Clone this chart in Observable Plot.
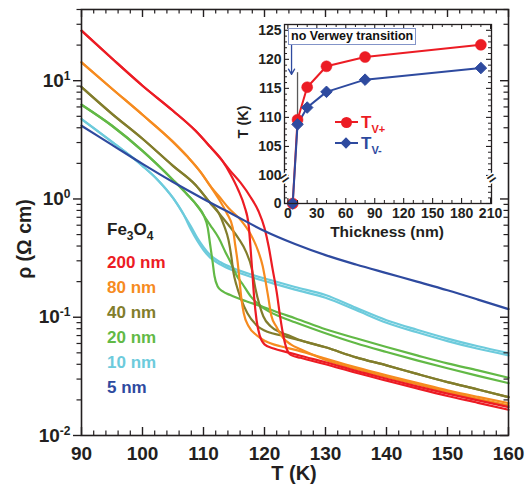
<!DOCTYPE html>
<html><head><meta charset="utf-8">
<script src="https://cdn.jsdelivr.net/npm/d3@7"></script>
<script src="https://cdn.jsdelivr.net/npm/@observablehq/plot@0.6"></script>
<style>
body{margin:0;background:#fff;}
#wrap{position:relative;width:525px;height:491px;font-family:"Liberation Sans",Arial,sans-serif;font-weight:bold;color:#231f20;overflow:hidden;}
#wrap svg{position:absolute;left:0;top:0;}
.abs{position:absolute;white-space:nowrap;line-height:1;}
.sub{position:relative;font-size:12px;top:5px;}
</style></head><body><div id="wrap"></div>
<script>
// ---------- main chart data: [T (K), rho (Ohm cm)] ----------
const nm5 = [[90,4.16],[95,2.87],[100,1.98],[105,1.39],[110,1.00],[115,0.732],[120,0.536],[125,0.416],[130,0.335],[135,0.279],[140,0.236],[145,0.200],[150,0.169],[155,0.141],[160,0.117]];
const nm10Heat = [[90,4.74],[95,3.04],[100,1.905],[102.5,1.449],[105,1.02],[106.7,0.746],[107.9,0.590],[109.0,0.467],[110.0,0.392],[111.1,0.335],[112.8,0.292],[114.9,0.260],[117.7,0.231],[121.0,0.206],[125,0.180],[130,0.154],[135,0.120],[140,0.0943],[145,0.0783],[150,0.0660],[155,0.0568],[160,0.0498]];
const nm10Cool = [[90,4.74],[95,3.04],[100,1.905],[102.5,1.449],[105,1.02],[106.7,0.746],[107.9,0.557],[109.0,0.441],[110.0,0.370],[111.1,0.319],[112.8,0.279],[114.9,0.248],[117.7,0.220],[121.0,0.196],[125,0.171],[130,0.146],[135,0.115],[140,0.0898],[145,0.0746],[150,0.0628],[155,0.0541],[160,0.0476]];
const nm20Cool = [[90,6.26],[95,4.16],[100,2.55],[105,1.449],[107.4,1.081],[109.0,0.872],[110.0,0.732],[110.7,0.568],[111.1,0.408],[111.5,0.292],[111.8,0.223],[112.3,0.183],[113.1,0.166],[114.4,0.154],[116.9,0.137],[119.8,0.122],[122.6,0.108],[125,0.0982],[130,0.0791],[135,0.0664],[140,0.0560],[145,0.0476],[150,0.0407],[155,0.0355],[160,0.0308]];
const nm20Heat = [[90,6.26],[95,4.16],[100,2.55],[105,1.449],[107.4,1.081],[109.0,0.872],[110.0,0.732],[111.1,0.602],[112.5,0.467],[113.6,0.355],[114.6,0.281],[115.4,0.227],[116.4,0.191],[117.7,0.151],[119.0,0.129],[120.7,0.112],[122.6,0.101],[125,0.0907],[130,0.0732],[135,0.0602],[140,0.0508],[145,0.0432],[150,0.0370],[155,0.0319],[160,0.0277]];
const nm40Cool = [[90,8.84],[95,5.25],[100,3.23],[105,1.905],[108.7,1.314],[111.1,0.925],[112.5,0.761],[113.4,0.590],[114.1,0.449],[114.6,0.316],[114.9,0.241],[115.4,0.187],[116.1,0.145],[117.2,0.108],[118.7,0.0855],[120.7,0.0746],[122.6,0.0704],[125.9,0.0638],[130,0.0557],[135,0.0458],[140,0.0392],[145,0.0332],[150,0.0283],[155,0.0245],[160,0.0211]];
const nm40Heat = [[90,8.84],[95,5.25],[100,3.23],[105,1.905],[108.7,1.314],[111.1,0.925],[112.5,0.761],[114.1,0.602],[115.7,0.467],[117.0,0.355],[117.9,0.260],[118.5,0.176],[119.2,0.126],[119.8,0.102],[121.0,0.0839],[122.6,0.0746],[124.3,0.0690],[125.9,0.0638],[130,0.0557],[135,0.0458],[140,0.0392],[145,0.0332],[150,0.0283],[155,0.0245],[160,0.0211]];
const nm80Cool = [[90,14.3],[95,8.55],[100,5.15],[105,3.04],[107.4,2.27],[109.5,1.694],[111.1,1.289],[112.5,1.00],[113.8,0.761],[114.8,0.568],[115.2,0.408],[115.6,0.292],[115.9,0.206],[116.2,0.145],[116.6,0.108],[117.4,0.0839],[118.7,0.0704],[120.2,0.0626],[122.6,0.0568],[125.4,0.0525],[130,0.0447],[135,0.0377],[140,0.0323],[145,0.0279],[150,0.0241],[155,0.0212],[160,0.0188]];
const nm80Heat = [[90,14.3],[95,8.55],[100,5.15],[105,3.04],[107.4,2.27],[109.5,1.694],[111.1,1.289],[112.5,1.060],[114.1,0.839],[116.1,0.664],[117.7,0.505],[118.9,0.370],[119.7,0.271],[120.2,0.198],[120.7,0.139],[121.1,0.104],[122.0,0.0823],[123.1,0.0664],[124.3,0.0590],[125.9,0.0536],[130,0.0436],[135,0.0366],[140,0.0313],[145,0.0271],[150,0.0234],[155,0.0204],[160,0.0180]];
const nm200Cool = [[90,26.5],[95,15.4],[100,9.07],[105,5.57],[108.7,3.77],[111.1,2.76],[113.1,2.10],[114.4,1.629],[115.7,1.192],[116.7,0.872],[117.4,0.602],[117.7,0.392],[118.0,0.241],[118.3,0.148],[118.7,0.0943],[119.2,0.0704],[120.0,0.0590],[121.5,0.0543],[123.8,0.0505],[125.9,0.0472],[130,0.0416],[135,0.0352],[140,0.0302],[145,0.0260],[150,0.0226],[155,0.0198],[160,0.0174]];
const nm200Heat = [[90,26.5],[95,15.4],[100,9.07],[105,5.57],[108.7,3.77],[111.1,2.76],[113.1,2.10],[114.4,1.727],[116.1,1.366],[117.7,1.040],[119.0,0.791],[120.0,0.568],[120.7,0.392],[121.3,0.260],[122.0,0.163],[122.6,0.0982],[123.1,0.0690],[123.6,0.0546],[124.3,0.0481],[125.9,0.0454],[130,0.0400],[135,0.0339],[140,0.0291],[145,0.0250],[150,0.0216],[155,0.0189],[160,0.0165]];

const seriesNames = ["200 nm","80 nm","40 nm","20 nm","10 nm","5 nm"];
const seriesColors = ["#ec1c24","#f68b1f","#827d2c","#62b946","#6dcbdc","#2e4a9f"];
const drawOrder = [
  {color:"#6dcbdc", branches:[nm10Heat, nm10Cool]},
  {color:"#62b946", branches:[nm20Cool, nm20Heat]},
  {color:"#827d2c", branches:[nm40Cool, nm40Heat]},
  {color:"#f68b1f", branches:[nm80Cool, nm80Heat]},
  {color:"#ec1c24", branches:[nm200Cool, nm200Heat]},
  {color:"#2e4a9f", branches:[nm5]}
];

// main ticks
const xMajor = [90,100,110,120,130,140,150,160];
const xMinor = d3.range(92,160,2).filter(t => t % 10 !== 0);
const yMajor = [0.01,0.1,1,10];
const yMinor = [0.01,0.1,1,10].flatMap(p => d3.range(2,10).map(k => +(k*p).toPrecision(3))).filter(v => v <= 40);

// ---------- inset data ----------
const thickness = [5,10,20,40,80,200];
const tvPlus  = [0,109.6,115.2,118.8,120.4,122.5];
const tvMinus = [0,108.8,111.7,114.4,116.5,118.5];
const insetXMajor = [0,30,60,90,120,150,180,210];
const insetXMinor = d3.range(10,210,10).filter(v => v % 30 !== 0);
const insetYMajor = [0,100,105,110,115,120,125];
const insetYMinor = [20,40,60,80].concat(d3.range(101,127).filter(v => v % 5 !== 0));
const arrowNote = [{x:3.8, y1:122.8, y2:117.4}];
const grayRule = [{x:10, y1:108.8, y2:117.7}];
const breakAt = [{x:-3.5, y:90},{x:211, y:90}];

// broken inset axis: 0..100 compressed below the break
const squeeze = 0.0483;
const brk = v => v >= 100 ? v : 100 - (100 - v) * squeeze;
const unbrk = d => d >= 100 ? d : 100 - (100 - d) / squeeze;

const ink = "#231f20";
const wrap = document.getElementById("wrap");

// ---------- main plot ----------
const W=525, H=491, mL=81, mR=17, mT=9, mB=56;
const fW = W-mL-mR, fH = H-mT-mB;
const lineMarks = drawOrder.flatMap(s => s.branches.map(b =>
  Plot.line(b, {x: d => d[0], y: d => d[1], stroke: s.color, strokeWidth: 2.2, curve: "monotone-x", strokeLinejoin: "round"})));

const main = Plot.plot({
  width: W, height: H, marginLeft: mL, marginRight: mR, marginTop: mT, marginBottom: mB,
  x: {domain: [90,160]},
  y: {type: "log", domain: [0.01, 40]},
  style: {fontFamily: "Liberation Sans, Arial, sans-serif", fontWeight: "bold", fontSize: "19px", color: ink, background: "transparent", overflow: "visible"},
  marks: [
    ...lineMarks,
    Plot.frame({stroke: ink, strokeWidth: 1.6}),
    Plot.tickX(xMajor, {x: d => d, insetTop: fH-8, stroke: ink, strokeWidth: 1.4}),
    Plot.tickX(xMinor, {x: d => d, insetTop: fH-4.5, stroke: ink, strokeWidth: 1.2}),
    Plot.tickX(xMajor, {x: d => d, insetBottom: fH-8, stroke: ink, strokeWidth: 1.4}),
    Plot.tickX(xMinor, {x: d => d, insetBottom: fH-4.5, stroke: ink, strokeWidth: 1.2}),
    Plot.tickY(yMajor, {y: d => d, insetLeft: -8, insetRight: fW, stroke: ink, strokeWidth: 1.4}),
    Plot.tickY(yMinor, {y: d => d, insetLeft: -4.5, insetRight: fW, stroke: ink, strokeWidth: 1.2}),
    Plot.tickY(yMajor, {y: d => d, insetLeft: fW-8, stroke: ink, strokeWidth: 1.4}),
    Plot.tickY(yMinor, {y: d => d, insetLeft: fW-4.5, stroke: ink, strokeWidth: 1.2}),
    Plot.axisX({ticks: xMajor, tickSize: 0, tickPadding: 11, label: null, fontSize: 19, tickFormat: d => String(d)}),
    Plot.axisY({ticks: yMajor, tickSize: 0, tickPadding: 11, label: null, fontSize: 19, tickFormat: d => "10^" + Math.round(Math.log10(d))})
  ]
});
main.querySelectorAll("text").forEach(t => {
  if (t.textContent.includes("^")) {
    const [b, e] = t.textContent.split("^");
    t.textContent = b;
    const ts = document.createElementNS("http://www.w3.org/2000/svg", "tspan");
    ts.setAttribute("dy", "-7"); ts.setAttribute("font-size", "12"); ts.textContent = e;
    t.appendChild(ts);
  }
});
wrap.appendChild(main);

// ---------- inset plot ----------
const iW=290, iH=235, iL=54, iR=29, iT=9, iB=47;
const ifW = iW-iL-iR, ifH = iH-iT-iB;
const insetRows = thickness.map((t,i) => ({t, plus: tvPlus[i], minus: tvMinus[i]}));
const inset = Plot.plot({
  width: iW, height: iH, marginLeft: iL, marginRight: iR, marginTop: iT, marginBottom: iB,
  x: {domain: [-3.5, 211]},
  y: {domain: [brk(0), 126]},
  style: {fontFamily: "Liberation Sans, Arial, sans-serif", fontWeight: "bold", fontSize: "14px", color: ink, background: "transparent", overflow: "visible"},
  marks: [
    Plot.frame({fill: "white", stroke: "none"}),
    Plot.ruleX(grayRule, {x: "x", y1: d => brk(d.y1), y2: d => brk(d.y2), stroke: "#5a5a5a", strokeWidth: 1.3}),
    Plot.line(insetRows, {x: "t", y: d => brk(d.plus), stroke: "#ec1c24", strokeWidth: 2}),
    Plot.line(insetRows, {x: "t", y: d => brk(d.minus), stroke: "#2e4a9f", strokeWidth: 2}),
    Plot.dot(insetRows, {x: "t", y: d => brk(d.plus), r: 5.5, fill: "#ec1c24", stroke: "#ec1c24", strokeWidth: 0.5}),
    Plot.dot(insetRows, {x: "t", y: d => brk(d.minus), r: 5.2, symbol: "diamond2", fill: "#2e4a9f", stroke: "#2e4a9f", strokeWidth: 1}),
    Plot.arrow(arrowNote, {x1: "x", x2: "x", y1: d => brk(d.y1), y2: d => brk(d.y2), stroke: "#2e4a9f", strokeWidth: 1.3, headLength: 7}),
    Plot.frame({stroke: ink, strokeWidth: 1.3}),
    Plot.tickX(insetXMajor, {x: d => d, insetTop: ifH-5, stroke: ink, strokeWidth: 1.1}),
    Plot.tickX(insetXMinor, {x: d => d, insetTop: ifH-3, stroke: ink, strokeWidth: 1}),
    Plot.tickX(insetXMajor, {x: d => d, insetBottom: ifH-5, stroke: ink, strokeWidth: 1.1}),
    Plot.tickX(insetXMinor, {x: d => d, insetBottom: ifH-3, stroke: ink, strokeWidth: 1}),
    Plot.tickY(insetYMajor, {y: d => brk(d), insetRight: ifW-5, stroke: ink, strokeWidth: 1.1}),
    Plot.tickY(insetYMinor, {y: d => brk(d), insetRight: ifW-3, stroke: ink, strokeWidth: 1}),
    Plot.tickY(insetYMajor, {y: d => brk(d), insetLeft: ifW-5, stroke: ink, strokeWidth: 1.1}),
    Plot.tickY(insetYMinor, {y: d => brk(d), insetLeft: ifW-3, stroke: ink, strokeWidth: 1}),
    Plot.text(breakAt, {x: "x", y: d => brk(d.y), text: () => "=", rotate: -35, fontSize: 15, fill: ink, stroke: "white", strokeWidth: 3, paintOrder: "stroke"}),
    Plot.axisX({ticks: insetXMajor, tickSize: 0, tickPadding: 5, label: null, fontSize: 14, tickFormat: d => String(d)}),
    Plot.axisY({ticks: insetYMajor.map(brk), tickSize: 0, tickPadding: 3, label: null, fontSize: 14, tickFormat: d => String(Math.round(unbrk(d)))})
  ]
});
inset.style.left = "230px"; inset.style.top = "15px";
wrap.appendChild(inset);

// ---------- text overlays ----------
function addDiv(html, css) {
  const d = document.createElement("div");
  d.className = "abs"; d.innerHTML = html; Object.assign(d.style, css);
  wrap.appendChild(d); return d;
}
// axis titles
addDiv("T (K)", {left: "294px", top: "463px", fontSize: "20px", transform: "translateX(-50%)"});
addDiv("ρ (Ω cm)", {left: "25px", top: "239px", fontSize: "19.5px", transform: "translate(-50%,-50%) rotate(-90deg)"});
// main legend
addDiv('Fe<span class="sub">3</span>O<span class="sub">4</span>', {left: "107px", top: "221px", fontSize: "17px"});
seriesNames.forEach((n, i) => addDiv(n, {left: "107px", top: (253.7 + i*25) + "px", fontSize: "17px", color: seriesColors[i]}));
// inset titles
addDiv("Thickness (nm)", {left: "387px", top: "224px", fontSize: "15.5px", transform: "translateX(-50%)"});
addDiv("T (K)", {left: "243px", top: "122px", fontSize: "14.5px", transform: "translate(-50%,-50%) rotate(-90deg)"});
// annotation box
addDiv("no Verwey transition", {left: "288px", top: "28px", fontSize: "12.5px", padding: "1px 2px 1px 2px", border: "1px solid #8394c8", background: "white", color: "#111"});
// inset legend
function legendRow(y, color, marker, sub) {
  addDiv("", {left: "335px", top: (y-1.1) + "px", width: "23px", height: "2.2px", background: color});
  if (marker === "circle") addDiv("", {left: "341px", top: (y-5.5) + "px", width: "11px", height: "11px", borderRadius: "50%", background: color});
  else addDiv("", {left: "342px", top: (y-4) + "px", width: "8px", height: "8px", background: color, transform: "rotate(45deg)"});
  addDiv('T<span style="font-size:11px;position:relative;top:5px;">' + sub + '</span>', {left: "361px", top: (y-8.3) + "px", fontSize: "17px", color: color});
}
legendRow(122, "#ec1c24", "circle", "V+");
legendRow(143, "#2e4a9f", "diamond", "V-");
</script></body></html>
